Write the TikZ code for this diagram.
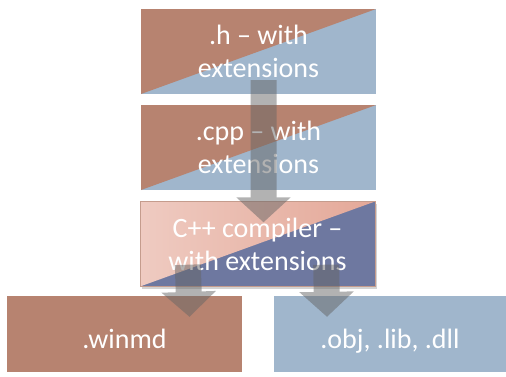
\documentclass[tikz,border=0pt]{standalone}
\usepackage{fontspec}
\setmainfont{Carlito}
\usetikzlibrary{arrows.meta,shadows}

\definecolor{rust}{RGB}{183,131,112}
\definecolor{steel}{RGB}{160,182,204}
\definecolor{blush}{RGB}{228,168,152}
\definecolor{slate}{RGB}{110,120,160}

\def \boxw {235pt}
\def \boxh {85pt}

\tikzstyle{stage}=[minimum width=\boxw, minimum height=\boxh, inner sep=0pt,
  align=center, text=white, font=\fontsize{28}{33}\selectfont]
\tikzstyle{split}=[stage, fill=steel, path picture={
  \fill[rust] (path picture bounding box.south west) -- (path picture bounding box.north west)
    -- (path picture bounding box.north east) -- cycle;}]
\tikzstyle{product}=[stage, minimum height=76pt, text height=28pt, text depth=0pt]
\tikzstyle{flow}=[draw=gray!80!black, line width=26pt,
  -{Triangle[width=53pt,length=25pt]}]

\begin{document}
\begin{tikzpicture}[x=1pt, y=-1pt]
\useasboundingbox (0,0) rectangle (506,376);

\node[split] (hfile) at (258.5, 51.5) {.h -- with\\extensions};
\node[split] (cppfile) at (258.5, 147.5) {.cpp -- with\\extensions};

\node[stage, fill=slate, draw=rust!80, drop shadow={opacity=0.35, shadow xshift=2pt, shadow yshift=-2pt},
  path picture={
    \shade[left color=blush!60, right color=blush] (path picture bounding box.south west)
      -- (path picture bounding box.north west) -- (path picture bounding box.north east) -- cycle;}]
  (compiler) at (257.5, 244) {C++ compiler --\\with extensions};

\node[product, fill=rust, minimum width=235pt] (winmd) at (124.5, 334) {.winmd};
\node[product, fill=steel, minimum width=232pt] (objs) at (390, 334) {.obj, .lib, .dll};

% arrows over the boxes
\begin{scope}[transparency group, opacity=0.5]
\draw[flow] ([xshift=5pt, yshift=14pt]hfile.south) -- ([xshift=6pt, yshift=-21pt]compiler.north);
\draw[flow] ([xshift=48pt, yshift=22pt]compiler.south west) -- ([xshift=65pt, yshift=-21pt]winmd.north);
\draw[flow] ([xshift=-49pt, yshift=22pt]compiler.south east) -- ([xshift=-63pt, yshift=-21pt]objs.north);
\end{scope}

\end{tikzpicture}
\end{document}
